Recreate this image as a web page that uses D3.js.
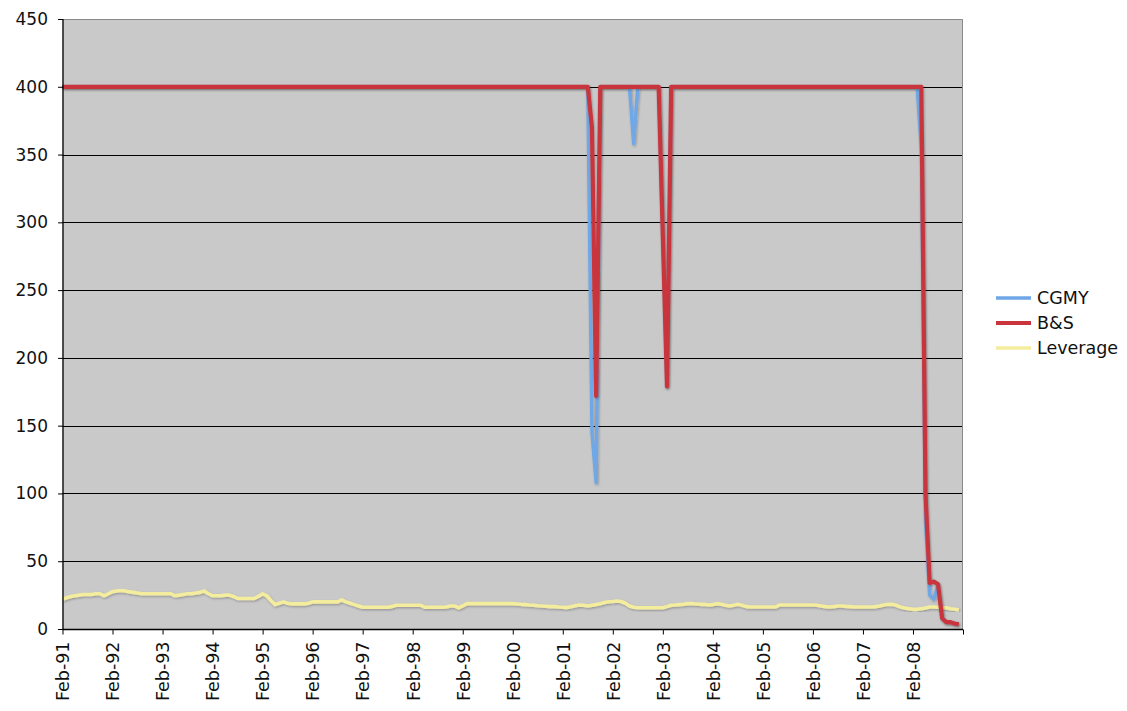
<!DOCTYPE html>
<html>
<head>
<meta charset="utf-8">
<script src="https://cdn.jsdelivr.net/npm/d3@7"></script>
<style>
  html, body { margin: 0; padding: 0; background: #ffffff; }
  svg { display: block; }
  text { font-family: "DejaVu Sans", Verdana, sans-serif; fill: #111; }
</style>
</head>
<body>
<svg id="chart" width="1127" height="711"></svg>
<script>
// ---------- DATA (monthly, Feb-91 ... Jan-09) ----------
const yearLabels = ["Feb-91","Feb-92","Feb-93","Feb-94","Feb-95","Feb-96","Feb-97","Feb-98","Feb-99",
                    "Feb-00","Feb-01","Feb-02","Feb-03","Feb-04","Feb-05","Feb-06","Feb-07","Feb-08"];
const yTicks = [0, 50, 100, 150, 200, 250, 300, 350, 400, 450];
const seriesNames = ["CGMY", "B&S", "Leverage"];

const cgmy = [
  400,400,400,400,400,400,400,400,400,400,400,400,
  400,400,400,400,400,400,400,400,400,400,400,400,
  400,400,400,400,400,400,400,400,400,400,400,400,
  400,400,400,400,400,400,400,400,400,400,400,400,
  400,400,400,400,400,400,400,400,400,400,400,400,
  400,400,400,400,400,400,400,400,400,400,400,400,
  400,400,400,400,400,400,400,400,400,400,400,400,
  400,400,400,400,400,400,400,400,400,400,400,400,
  400,400,400,400,400,400,400,400,400,400,400,400,
  400,400,400,400,400,400,400,400,400,400,400,400,
  400,400,400,400,400,400,400,145,108,400,400,400,
  400,400,400,400,400,358,400,400,400,400,400,400,
  290,179,400,400,400,400,400,400,400,400,400,400,
  400,400,400,400,400,400,400,400,400,400,400,400,
  400,400,400,400,400,400,400,400,400,400,400,400,
  400,400,400,400,400,400,400,400,400,400,400,400,
  400,400,400,400,400,400,400,400,400,400,400,400,
  400,400,355,80,25,22,33,8,5,5,4,3.5
];

const bs = [
  400,400,400,400,400,400,400,400,400,400,400,400,
  400,400,400,400,400,400,400,400,400,400,400,400,
  400,400,400,400,400,400,400,400,400,400,400,400,
  400,400,400,400,400,400,400,400,400,400,400,400,
  400,400,400,400,400,400,400,400,400,400,400,400,
  400,400,400,400,400,400,400,400,400,400,400,400,
  400,400,400,400,400,400,400,400,400,400,400,400,
  400,400,400,400,400,400,400,400,400,400,400,400,
  400,400,400,400,400,400,400,400,400,400,400,400,
  400,400,400,400,400,400,400,400,400,400,400,400,
  400,400,400,400,400,400,400,370,172,400,400,400,
  400,400,400,400,400,400,400,400,400,400,400,400,
  290,179,400,400,400,400,400,400,400,400,400,400,
  400,400,400,400,400,400,400,400,400,400,400,400,
  400,400,400,400,400,400,400,400,400,400,400,400,
  400,400,400,400,400,400,400,400,400,400,400,400,
  400,400,400,400,400,400,400,400,400,400,400,400,
  400,400,400,100,34,35,33,8,5,5,4,3.5
];

const leverage = [
  22,23,24,24.5,25,25.5,25.5,25.5,26,26,24.5,26,
  27.5,28,28.5,28,27.5,27,26.5,26,26,26,26,26,
  26,26,26,24.5,25,25.5,26,26,26.5,27,28,26,
  24.5,24.5,24.5,25,25,24,22.5,22.5,22.5,22.5,22.5,24,
  26,24.5,21,18,19,20,19,18.5,18.5,18.5,18.5,19,
  20,20,20,20,20,20,20,21.5,20,19,18,17,
  16,16,16,16,16,16,16,16.5,17.5,17.5,17.5,17.5,
  17.5,17.5,17.5,16,16,16,16,16,16.2,17,17,15.5,
  17,18.7,18.7,18.7,18.7,18.7,18.7,18.7,18.7,18.7,18.7,18.7,
  18.7,18.5,18.2,18,17.7,17.5,17.2,17,16.8,16.5,16.5,16.2,
  16,15.8,16.5,17.2,17.7,17.5,17,17.5,18,18.7,19.5,20.1,
  20.3,20.6,20.3,19,17,16,15.7,15.7,15.7,15.7,15.7,15.7,
  15.7,16.5,17.5,17.7,18,18.3,18.7,18.7,18.5,18.2,18.2,17.7,
  18,18.7,18.2,17.5,17,17.5,18.2,17.5,16.5,16.2,16.2,16.2,
  16.2,16.2,16.2,16.2,17.7,17.7,17.7,17.7,17.7,17.7,17.7,17.7,
  17.7,17.5,17,16.5,16.2,16.5,17,17,16.7,16.5,16.2,16.2,
  16.2,16.2,16.2,16.5,17,17.7,18.2,18.2,17.5,16.2,15.5,15,
  14.5,14.5,15,15.5,16.2,16.2,16,15.7,15.7,15,14.5,14
];

const colors = { "CGMY": "#6fa7e6", "B&S": "#c9353d", "Leverage": "#f4ed9e" };
const widths = { "CGMY": 3.4, "B&S": 4.2, "Leverage": 3.6 };

// ---------- LAYOUT ----------
const L = 62.5, R = 963, T = 19, B = 629;
const svg = d3.select("#chart");

const x = d3.scaleLinear().domain([0, 216]).range([L, R]);
const y = d3.scaleLinear().domain([0, 450]).range([B, T]);

const defs = svg.append("defs");
const f = defs.append("filter").attr("id", "shadow")
  .attr("x", "-5%").attr("y", "-5%").attr("width", "110%").attr("height", "110%");
f.append("feDropShadow").attr("dx", 0.8).attr("dy", 1.2).attr("stdDeviation", 0.9)
  .attr("flood-color", "#000").attr("flood-opacity", 0.28);

// plot background
svg.append("rect").attr("x", L).attr("y", T).attr("width", R - L).attr("height", B - T)
  .attr("fill", "#c9c9c9");

// gridlines
svg.append("g").selectAll("line").data(yTicks.filter(d => d > 0 && d < 450)).join("line")
  .attr("x1", L).attr("x2", R)
  .attr("y1", d => Math.round(y(d)) + 0.5).attr("y2", d => Math.round(y(d)) + 0.5)
  .attr("stroke", "#000").attr("stroke-width", 1.1);

// plot border top/right (gray)
svg.append("path")
  .attr("d", `M${L},${T + 0.5}H${R - 0.5}V${B}`)
  .attr("fill", "none").attr("stroke", "#8a8a8a").attr("stroke-width", 1);

// series lines
const line = d3.line().x((d, i) => x(i)).y(d => y(d));
const seriesData = { "CGMY": cgmy, "B&S": bs, "Leverage": leverage };
["Leverage", "CGMY", "B&S"].forEach(name => {
  svg.append("path").datum(seriesData[name])
    .attr("d", line)
    .attr("fill", "none")
    .attr("stroke", colors[name])
    .attr("stroke-width", widths[name])
    .attr("stroke-linejoin", "round")
    .attr("filter", "url(#shadow)");
});

// Y axis
const yAxis = d3.axisLeft(y).tickValues(yTicks).tickSize(5).tickPadding(10);
const gy = svg.append("g").attr("transform", `translate(${L + 0.5},0)`).call(yAxis);
gy.select(".domain").attr("stroke", "#000").attr("stroke-width", 1.3).attr("d", `M0,${T}V${B}`);
gy.selectAll(".tick line").attr("stroke", "#000");
gy.selectAll(".tick text").attr("font-size", 17).attr("font-family", "DejaVu Sans, Verdana, sans-serif")
  .attr("fill", "#111").attr("x", -15);

// X axis
const tickIdx = d3.range(0, 217, 12);
const xAxis = d3.axisBottom(x).tickValues(tickIdx).tickSize(5)
  .tickFormat(d => yearLabels[d / 12] || "");
const gx = svg.append("g").attr("transform", `translate(0,${B + 0.5})`).call(xAxis);
gx.select(".domain").attr("stroke", "#000").attr("stroke-width", 1.3).attr("d", `M${L},0H${R}`);
gx.selectAll(".tick line").attr("stroke", "#000");
gx.selectAll(".tick text")
  .attr("font-size", 17.5).attr("font-family", "DejaVu Sans, Verdana, sans-serif").attr("fill", "#111")
  .attr("text-anchor", "end")
  .attr("transform", "translate(0,12) rotate(-90)")
  .attr("x", 0).attr("y", 0).attr("dy", "0.36em");

// Legend
const legend = svg.append("g");
const ly0 = 298, lstep = 25;
seriesNames.forEach((name, i) => {
  const gy2 = ly0 + i * lstep;
  legend.append("line").attr("x1", 996).attr("x2", 1031).attr("y1", gy2).attr("y2", gy2)
    .attr("stroke", colors[name]).attr("stroke-width", widths[name]);
  legend.append("text").attr("x", 1037).attr("y", gy2).attr("dy", "0.36em")
    .attr("font-size", 17.5).text(name);
});
</script>
</body>
</html>
